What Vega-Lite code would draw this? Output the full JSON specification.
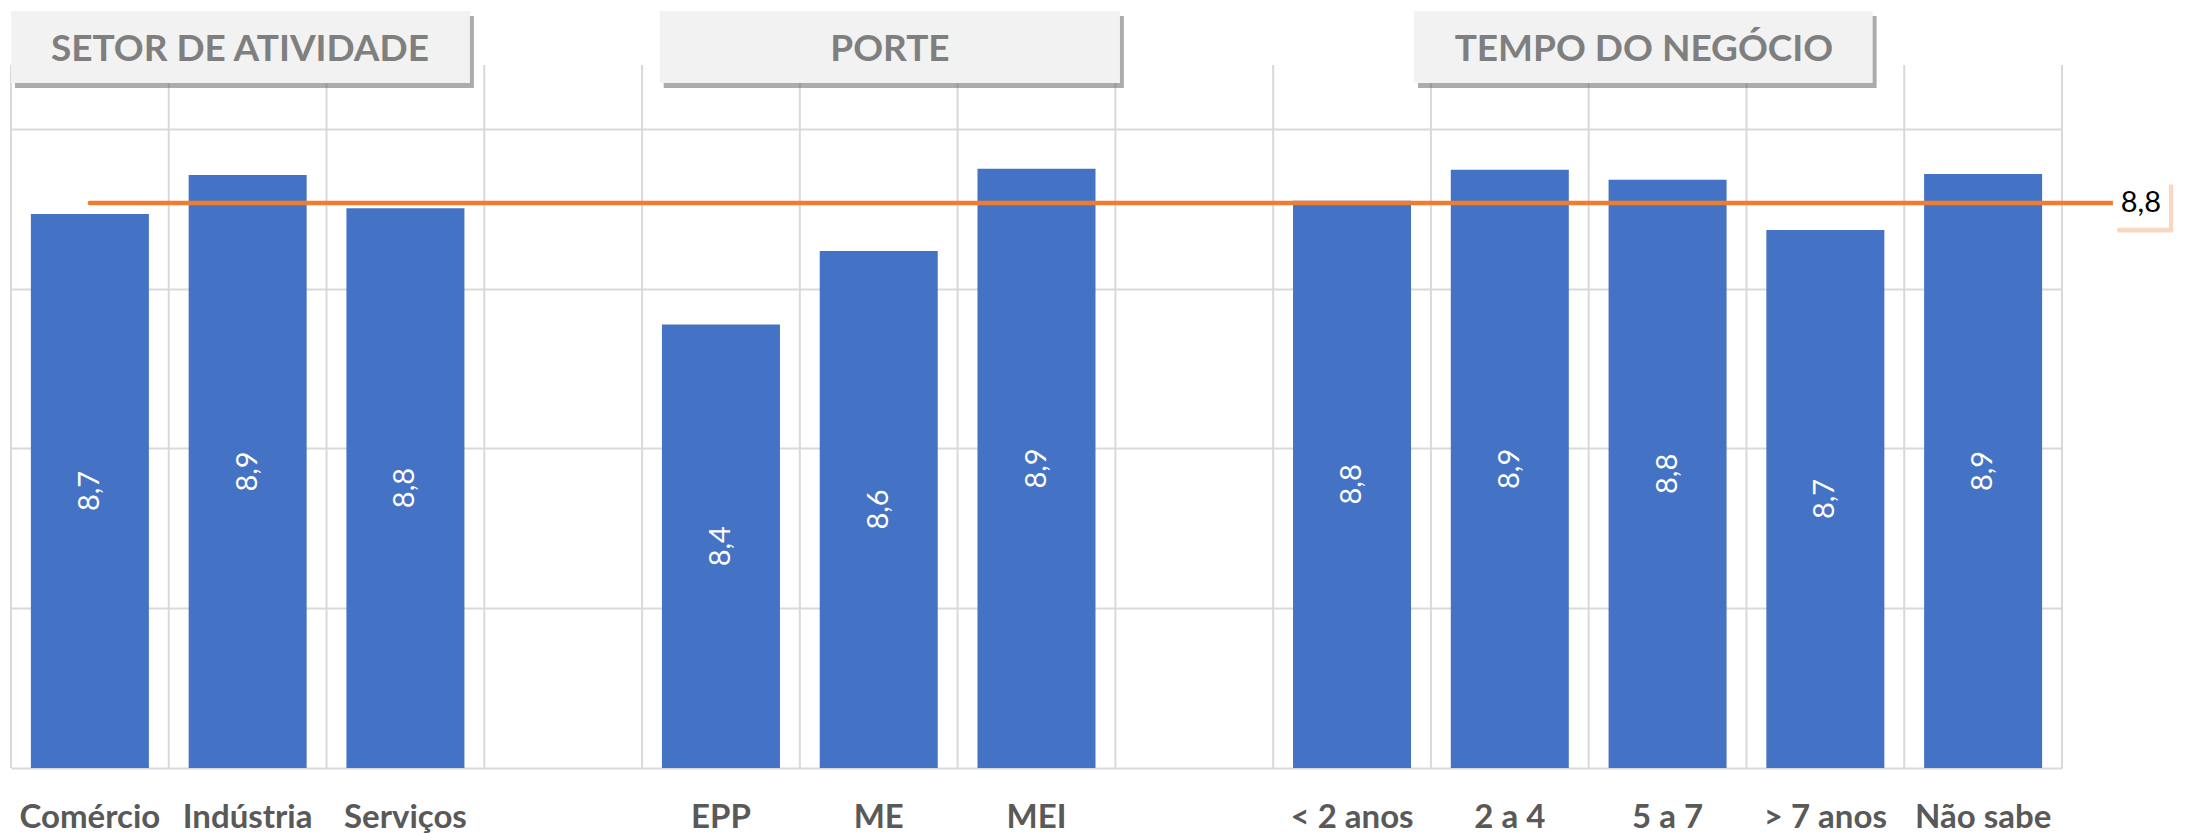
{
  "$schema": "https://vega.github.io/schema/vega-lite/v6.json",
  "autosize": "none",
  "width": 2051,
  "height": 703,
  "padding": {"left": 11, "top": 65, "right": 136, "bottom": 65},
  "background": "#ffffff",
  "config": {
    "view": {"stroke": null},
    "locale": {"number": {"decimal": ",", "thousands": ".", "grouping": [3], "currency": ["R$", ""]}},
    "font": "Lato"
  },
  "datasets": {
    "notas": [
      {"cat": "Comércio", "valor": 8.734},
      {"cat": "Indústria", "valor": 8.856},
      {"cat": "Serviços", "valor": 8.752},
      {"cat": "_a", "valor": null},
      {"cat": "EPP", "valor": 8.388},
      {"cat": "ME", "valor": 8.618},
      {"cat": "MEI", "valor": 8.875},
      {"cat": "_b", "valor": null},
      {"cat": "< 2 anos", "valor": 8.775},
      {"cat": "2 a 4", "valor": 8.872},
      {"cat": "5 a 7", "valor": 8.841},
      {"cat": "> 7 anos", "valor": 8.684},
      {"cat": "Não sabe", "valor": 8.859}
    ],
    "media": [{"media": 8.768}]
  },
  "data": {"name": "notas"},
  "resolve": {"scale": {"y": "independent"}},
  "layer": [
    {
      "mark": {"type": "rule", "color": "#d9d9d9", "strokeWidth": 2},
      "encoding": {
        "x": {"field": "cat", "type": "nominal", "sort": null, "bandPosition": 0,
              "scale": {"paddingInner": 0, "paddingOuter": 0},
              "axis": {"title": null, "grid": false, "ticks": false, "domain": false,
                       "labelAngle": 0, "labelFont": "Lato", "labelFontSize": 33, "labelFontWeight": "bold",
                       "labelColor": "#595959", "labelPadding": 33, "labelBaseline": "top",
                       "labelExpr": "indexof(datum.value, '_') == 0 ? '' : datum.value"}}
      }
    },
    {
      "mark": {"type": "rule", "color": "#d9d9d9", "strokeWidth": 2},
      "encoding": {
        "x": {"datum": "Não sabe", "type": "nominal", "bandPosition": 1}
      }
    },
    {
      "mark": {"type": "bar", "color": "#4472C4", "width": {"band": 0.748}},
      "encoding": {
        "x": {"field": "cat", "type": "nominal", "sort": null},
        "y": {"field": "valor", "type": "quantitative",
              "scale": {"domain": [7, 9.2], "nice": false, "zero": false},
              "axis": {"values": [7, 7.5, 8, 8.5, 9], "labels": false, "ticks": false, "domain": false,
                       "title": null, "grid": true, "gridColor": "#d9d9d9", "gridWidth": 2}},
        "y2": {"datum": 7}
      }
    },
    {
      "mark": {"type": "text", "color": "#ffffff", "angle": 270, "align": "center", "baseline": "middle",
               "font": "Lato", "fontSize": 29, "fontWeight": "normal"},
      "encoding": {
        "x": {"field": "cat", "type": "nominal", "sort": null, "bandPosition": 0.5},
        "y": {"field": "valor", "type": "quantitative",
              "scale": {"domain": [7, 11.4], "nice": false, "zero": false}, "axis": null},
        "text": {"field": "valor", "type": "quantitative", "format": ".1f"}
      }
    },
    {
      "data": {"name": "media"},
      "layer": [
        {
          "mark": {"type": "rule", "color": "#ED7D31", "strokeWidth": 4.5, "strokeCap": "round"},
          "encoding": {
            "x": {"datum": "Comércio", "type": "nominal", "bandPosition": 0.5},
            "x2": {"datum": "Não sabe", "bandPosition": 1.323},
            "y": {"field": "media", "type": "quantitative",
                  "scale": {"domain": [7, 9.2], "nice": false, "zero": false}, "axis": null}
          }
        },
        {
          "mark": {"type": "rect", "color": "#f4b183", "opacity": 0.5},
          "encoding": {
            "x": {"datum": "Não sabe", "type": "nominal", "bandPosition": 1.35},
            "x2": {"datum": "Não sabe", "bandPosition": 1.705},
            "y": {"datum": 8.826, "type": "quantitative",
                  "scale": {"domain": [7, 9.2], "nice": false, "zero": false}, "axis": null},
            "y2": {"datum": 8.676}
          }
        },
        {
          "mark": {"type": "rect", "color": "#ffffff"},
          "encoding": {
            "x": {"datum": "Não sabe", "type": "nominal", "bandPosition": 1.323},
            "x2": {"datum": "Não sabe", "bandPosition": 1.678},
            "y": {"datum": 8.841, "type": "quantitative",
                  "scale": {"domain": [7, 9.2], "nice": false, "zero": false}, "axis": null},
            "y2": {"datum": 8.691}
          }
        },
        {
          "mark": {"type": "text", "color": "#000000", "align": "center", "baseline": "middle",
                   "font": "Lato", "fontSize": 29},
          "encoding": {
            "x": {"datum": "Não sabe", "type": "nominal", "bandPosition": 1.5},
            "y": {"field": "media", "type": "quantitative",
                  "scale": {"domain": [7, 9.2], "nice": false, "zero": false}, "axis": null},
            "text": {"field": "media", "type": "quantitative", "format": ".1f"}
          }
        }
      ]
    },
    {
      "data": {"values": [{"grupo": "SETOR DE ATIVIDADE"}]},
      "layer": [
        {
          "mark": {"type": "rect", "color": "#595959", "opacity": 0.5},
          "encoding": {
            "x": {"datum": "Comércio", "type": "nominal", "bandPosition": 0.025},
            "x2": {"datum": "Serviços", "bandPosition": 0.934},
            "y": {"datum": 9.353, "type": "quantitative",
                  "scale": {"domain": [7, 9.2], "nice": false, "zero": false}, "axis": null},
            "y2": {"datum": 9.128}
          }
        },
        {
          "mark": {"type": "rect", "color": "#f2f2f2"},
          "encoding": {
            "x": {"datum": "Comércio", "type": "nominal", "bandPosition": 0},
            "x2": {"datum": "Serviços", "bandPosition": 0.909},
            "y": {"datum": 9.369, "type": "quantitative",
                  "scale": {"domain": [7, 9.2], "nice": false, "zero": false}, "axis": null},
            "y2": {"datum": 9.144}
          }
        },
        {
          "mark": {"type": "text", "color": "#7f7f7f", "align": "center", "baseline": "alphabetic",
                   "font": "Lato", "fontSize": 37, "fontWeight": "bold"},
          "encoding": {
            "x": {"datum": "Indústria", "type": "nominal", "bandPosition": 0.451},
            "y": {"datum": 9.2125, "type": "quantitative",
                  "scale": {"domain": [7, 9.2], "nice": false, "zero": false}, "axis": null},
            "text": {"field": "grupo", "type": "nominal"}
          }
        }
      ]
    },
    {
      "data": {"values": [{"grupo": "PORTE"}]},
      "layer": [
        {
          "mark": {"type": "rect", "color": "#595959", "opacity": 0.5},
          "encoding": {
            "x": {"datum": "EPP", "type": "nominal", "bandPosition": 0.137},
            "x2": {"datum": "_b", "bandPosition": 0.054},
            "y": {"datum": 9.353, "type": "quantitative",
                  "scale": {"domain": [7, 9.2], "nice": false, "zero": false}, "axis": null},
            "y2": {"datum": 9.128}
          }
        },
        {
          "mark": {"type": "rect", "color": "#f2f2f2"},
          "encoding": {
            "x": {"datum": "EPP", "type": "nominal", "bandPosition": 0.112},
            "x2": {"datum": "_b", "bandPosition": 0.029},
            "y": {"datum": 9.369, "type": "quantitative",
                  "scale": {"domain": [7, 9.2], "nice": false, "zero": false}, "axis": null},
            "y2": {"datum": 9.144}
          }
        },
        {
          "mark": {"type": "text", "color": "#7f7f7f", "align": "center", "baseline": "alphabetic",
                   "font": "Lato", "fontSize": 37, "fontWeight": "bold"},
          "encoding": {
            "x": {"datum": "ME", "type": "nominal", "bandPosition": 0.571},
            "y": {"datum": 9.2125, "type": "quantitative",
                  "scale": {"domain": [7, 9.2], "nice": false, "zero": false}, "axis": null},
            "text": {"field": "grupo", "type": "nominal"}
          }
        }
      ]
    },
    {
      "data": {"values": [{"grupo": "TEMPO DO NEGÓCIO"}]},
      "layer": [
        {
          "mark": {"type": "rect", "color": "#595959", "opacity": 0.5},
          "encoding": {
            "x": {"datum": "< 2 anos", "type": "nominal", "bandPosition": 0.918},
            "x2": {"datum": "> 7 anos", "bandPosition": 0.825},
            "y": {"datum": 9.353, "type": "quantitative",
                  "scale": {"domain": [7, 9.2], "nice": false, "zero": false}, "axis": null},
            "y2": {"datum": 9.128}
          }
        },
        {
          "mark": {"type": "rect", "color": "#f2f2f2"},
          "encoding": {
            "x": {"datum": "< 2 anos", "type": "nominal", "bandPosition": 0.893},
            "x2": {"datum": "> 7 anos", "bandPosition": 0.8},
            "y": {"datum": 9.369, "type": "quantitative",
                  "scale": {"domain": [7, 9.2], "nice": false, "zero": false}, "axis": null},
            "y2": {"datum": 9.144}
          }
        },
        {
          "mark": {"type": "text", "color": "#7f7f7f", "align": "center", "baseline": "alphabetic",
                   "font": "Lato", "fontSize": 37, "fontWeight": "bold"},
          "encoding": {
            "x": {"datum": "5 a 7", "type": "nominal", "bandPosition": 0.35},
            "y": {"datum": 9.2125, "type": "quantitative",
                  "scale": {"domain": [7, 9.2], "nice": false, "zero": false}, "axis": null},
            "text": {"field": "grupo", "type": "nominal"}
          }
        }
      ]
    }
  ]
}
